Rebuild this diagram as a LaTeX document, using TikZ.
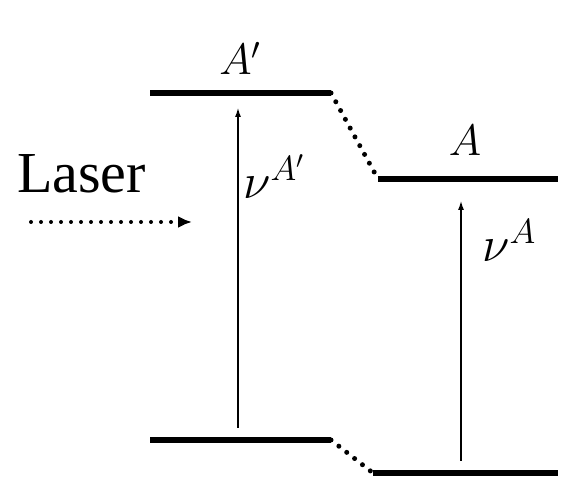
\RequirePackage{fix-cm}
\documentclass[tikz,border=0pt]{standalone}
\usepackage{fontspec}
\setmainfont{Liberation Serif}
\usetikzlibrary{arrows.meta, positioning}

\tikzset{
  level/.style={line width=5.5pt},
  shift link/.style={line width=5pt, line cap=round, dash pattern=on 0pt off 10pt},
  transition/.style={-{Latex[length=10pt,width=6pt]}, line width=2pt},
  beam/.style={-{Latex[length=14pt,width=12pt]}, line width=4pt, line cap=round, dash pattern=on 0pt off 10pt},
  lbl/.style={inner sep=0pt, font=\fontsize{44}{48}\selectfont},
  freq/.style={inner sep=0pt, font=\fontsize{50}{54}\selectfont}
}

\begin{document}
\begin{tikzpicture}[>=latex, x=1pt, y=-1pt]
    \useasboundingbox (0,0) rectangle (584,502);
    % =================================================================
    % 1. Energy levels
    % =================================================================
    \coordinate (upAp west) at (150,93);
    \coordinate (upAp east) at (331,93);
    \coordinate (upA west) at (378,179);
    \coordinate (upA east) at (558,179);
    \coordinate (lowAp west) at (150,440);
    \coordinate (lowAp east) at (331,440);
    \coordinate (lowA west) at (373,473);
    \coordinate (lowA east) at (558,473);
    \draw[level] (upAp west) -- (upAp east);
    \draw[level] (upA west) -- (upA east);
    \draw[level] (lowAp west) -- (lowAp east);
    \draw[level] (lowA west) -- (lowA east);
    % Shift between the two species
    \draw[shift link] (upAp east) -- (upA west);
    \draw[shift link] (lowAp east) -- (lowA west);

    % Level labels
    \node[lbl, anchor=base] (labelAp) at (240,75) {$A'$};
    \node[lbl, anchor=base] (labelA) at (465,156) {$A$};

    % =================================================================
    % 2. Transitions
    % =================================================================
    \coordinate (nuAp start) at (238,428);
    \coordinate (nuAp end) at (238,107);
    \coordinate (nuA start) at (461,461);
    \coordinate (nuA end) at (461,200);
    \draw[transition] (nuAp start) -- (nuAp end);
    \draw[transition] (nuA start) -- (nuA end);
    \node[freq, anchor=base west] (labelnuAp) at (243,199) {$\nu^{A'}$};
    \node[freq, anchor=base west] (labelnuA) at (482,262) {$\nu^{A}$};

    % =================================================================
    % 3. Laser
    % =================================================================
    \node[inner sep=0pt, anchor=base west, font=\fontsize{58}{62}\selectfont] (laser) at (17,193) {Laser};
    \coordinate (beam start) at (31,222);
    \coordinate (beam end) at (192,222);
    \draw[beam] (beam start) -- (beam end);
\end{tikzpicture}
\end{document}
